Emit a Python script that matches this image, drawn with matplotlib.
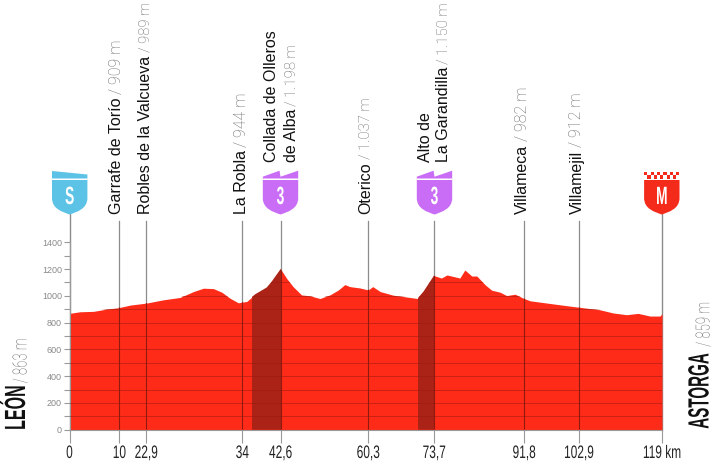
import matplotlib
matplotlib.use("Agg")
import matplotlib.pyplot as plt
from matplotlib.patches import Polygon, Rectangle, PathPatch
from matplotlib.path import Path
from matplotlib.transforms import Affine2D, Bbox
from matplotlib.patheffects import AbstractPathEffect

# ---------- data ----------
profile_km = [0, 2.1, 4.8, 7.5, 9.8, 12.2, 15.5, 18.8, 22.2, 24.9, 26.9, 28.9, 30.6, 32.2, 33.9,
              35.6, 37.3, 39.6, 40.6, 42.4, 43.6, 44.9, 46.6, 48.3, 50.3, 52.3, 54, 55.3, 56.3,
              58.3, 60, 60.9, 62.4, 65, 69.9, 71.1, 73.2, 74.7, 75.8, 78.4, 79.4, 80.8, 81.8,
              83.5, 84.8, 86.5, 87.8, 89.5, 91.1, 92.5, 98.5, 102.5, 106.5, 109.2, 111.9,
              114.2, 116.6, 118.6, 119]
profile_m = [869, 881, 884, 901, 911, 931, 946, 970, 988, 1032, 1057, 1054, 1027, 983, 948,
             958, 1012, 1062, 1106, 1200, 1131, 1069, 1007, 1000, 980, 1007, 1044, 1084, 1069,
             1059, 1044, 1069, 1032, 1005, 980, 1032, 1151, 1133, 1156, 1133, 1193, 1148, 1148,
             1082, 1042, 1027, 1002, 1012, 983, 963, 933, 914, 896, 872, 859,
             869, 849, 849, 867]
climb_starts = [36.7, 69.9]
climb_ends = [42.4, 73.3]
point_pos = [10, 15.4, 34.7, 42.4, 60, 73.2, 91.3, 102.3]
point_km_labels = ["10", "22,9", "34", "42,6", "60,3", "73,7", "91,8", "102,9"]
point_names = ["Garrafe de Torío", "Robles de la Valcueva", "La Robla", "Collada de Olleros\nde Alba",
               "Oterico", "Alto de\nLa Garandilla", "Villameca", "Villamejil"]
point_alts = ["909 m", "989 m", "944 m", "1.198 m", "1.037 m", "1.150 m", "982 m", "912 m"]
y_labels = list(range(0, 1401, 200))
y_minor = list(range(0, 1401, 100))
start_name, start_alt = "LEÓN", "863 m"
end_name, end_alt = "ASTORGA", "859 m"

# ---------- layout ----------
W, H = 720, 461
RED, DARK = "#fe2b18", "#ab2216"
SANS = "Liberation Sans"


class Squeeze(AbstractPathEffect):
    """Condense a text along its own direction, about its centre."""
    def __init__(self, sx):
        super().__init__()
        self.sx = sx

    def draw_path(self, renderer, gc, tpath, affine, rgbFace=None):
        e = tpath.get_extents()
        cx = e.x0 + e.width / 2
        t = Affine2D().translate(-cx, 0).scale(self.sx, 1).translate(cx, 0) + affine
        renderer.draw_path(gc, tpath, t, rgbFace)


def condense(t, sx):
    """Apply Squeeze and make the text report the extent it really draws."""
    t.set_path_effects([Squeeze(sx)])
    full = t.get_window_extent

    def extent(renderer=None, dpi=None):
        b = full(renderer, dpi)
        if t.get_rotation() == 90:
            mid, half = (b.y0 + b.y1) / 2, b.height * sx / 2
            return Bbox([[b.x0, mid - half], [b.x1, mid + half]])
        mid, half = (b.x0 + b.x1) / 2, b.width * sx / 2
        return Bbox([[mid - half, b.y0], [mid + half, b.y1]])

    t.get_window_extent = extent
    return t


fig = plt.figure(figsize=(7.2, 4.61), dpi=100, facecolor="white")
X0, X1, Y0, Y1 = 69.5, 662.0, 429.7, 242.3
ax = fig.add_axes([X0 / W, 1 - Y0 / H, (X1 - X0) / W, (Y0 - Y1) / H])
ax.set_xlim(0, 119)
ax.set_ylim(0, 1400)
ax.patch.set_alpha(0)
for s in ["top", "right"]:
    ax.spines[s].set_visible(False)
for s in ["left", "bottom"]:
    ax.spines[s].set_color("#999999")
    ax.spines[s].set_linewidth(0.8)

ov = fig.add_axes([0, 0, 1, 1], zorder=5)
ov.set_xlim(0, W)
ov.set_ylim(H, 0)
ov.axis("off")

# fill
ax.fill_between(profile_km, 0, profile_m, color=RED, lw=0, zorder=2)
clip_poly = Polygon(list(zip([0] + profile_km + [119], [0] + profile_m + [0])), transform=ax.transData,
                    fc="none", ec="none")
ax.add_patch(clip_poly)
for a, b in zip(climb_starts, climb_ends):
    r = ax.axvspan(a, b, color=DARK, lw=0, zorder=3)
    r.set_clip_path(clip_poly)
for v in y_minor[1:]:
    l = ax.axhline(v, color="#9c1a10", lw=0.55, alpha=0.7, zorder=4)
    l.set_clip_path(clip_poly)

# vertical lines
top = 1400 * (Y0 - 221.5) / (Y0 - Y1)
for p in point_pos:
    ax.plot([p, p], [0, top], color="#8c8c8c", lw=0.9, zorder=1, clip_on=False)
    l, = ax.plot([p, p], [0, top], color="#8f1a10", lw=0.8, zorder=4)
    l.set_clip_path(clip_poly)
for p in [0, 119]:
    ax.plot([p, p], [0, 1400 * (Y0 - 214) / (Y0 - Y1)], color="#8c8c8c", lw=1.0, zorder=1, clip_on=False)

# axes ticks
ax.set_yticks(y_minor)
ax.set_yticklabels([str(v) if v in y_labels else "" for v in y_minor], fontsize=6.5,
                   color="#8a8a8a", family=SANS)
ax.tick_params(axis="y", length=4, width=0.8, color="#999999", pad=1.5)
xt = [0] + point_pos + [119]
xl = ["0"] + point_km_labels + ["119 km"]
ax.set_xticks(xt)
ax.set_xticklabels(xl, fontsize=13, color="#222222", family=SANS)
ax.tick_params(axis="x", length=9, width=0.8, color="#999999", pad=2)
for t in ax.get_xticklabels():
    condense(t, 0.66)

fig.canvas.draw()
rend = fig.canvas.get_renderer()
NAME = dict(family=SANS, color="#111111", rotation=90, ha="center", va="bottom")
ALT = dict(family="Roboto", weight="light", color="#666666", rotation=90, ha="center", va="bottom")


def stacked(x, ybot, first, second, fs, fs2=None):
    t = ov.text(x, ybot, first, fontsize=fs, **NAME)
    bb = t.get_window_extent(rend)
    fs2 = fs2 or (fs - 0.8 if "." in second else fs)
    ov.text(x, ybot - bb.height - 3, second, fontsize=fs2, **ALT)


FS = 11.5
label_x = {0: 116.5, 1: 145, 2: 241.5, 4: 366, 6: 522, 7: 577}
for i, x in label_x.items():
    stacked(x, 213.5, point_names[i], "/ " + point_alts[i], FS, fs2=10.6 if i == 1 else None)
first, second = point_names[3].split("\n")
ov.text(271.5, 162, first, fontsize=FS, **NAME)
stacked(291.5, 162, second, "/ " + point_alts[3], FS)
first, second = point_names[5].split("\n")
ov.text(425.5, 162, first, fontsize=FS, **NAME)
stacked(444, 162, second, "/ " + point_alts[5], FS)

# start and finish, condensed and bold
def end_label(x, name, xa, ya, alt, yb, sx):
    t = ov.text(x, yb, name, fontsize=21, family=SANS, weight="bold", color="#111111", rotation=90,
                ha="center", va="center")
    condense(t, sx)
    a = ov.text(xa, ya, alt, fontsize=14, family="Roboto", weight="light", color="#666666", rotation=90,
                ha="center", va="center")
    condense(a, 0.68)

end_label(17, start_name, 21.5, 360.5, "/ " + start_alt, 407.5, 0.55)
end_label(700.5, end_name, 704.5, 324, "/ " + end_alt, 391, 0.52)

# shields
def shield(cx, color, letter, kind):
    l, r, top_y, bot = cx - 17.7, cx + 17.7, 180, 214.5
    verts = [(l, top_y), (r, top_y), (r, 198), (r, 209), (cx + 7, 212), (cx, bot), (cx - 7, 212), (l, 209),
             (l, 198), (l, top_y)]
    codes = [Path.MOVETO, Path.LINETO, Path.LINETO, Path.CURVE4, Path.CURVE4, Path.CURVE4,
             Path.CURVE4, Path.CURVE4, Path.CURVE4, Path.CLOSEPOLY]
    ov.add_patch(PathPatch(Path(verts, codes), fc=color, ec="none"))
    if kind == "start":
        ov.add_patch(Polygon([(l, 171), (r, 174.5), (r, 178.5), (l, 178.5)], fc=color, ec="none"))
    elif kind == "climb":
        ov.add_patch(Polygon([(l, 176.7), (cx - 1, 170.7), (cx, 176.7), (r, 170.7), (r, 178.5), (l, 178.5)],
                             fc=color, ec="none"))
    else:
        n = 6
        step = 35.4 / (2 * n - 1)
        for k in range(n):
            ov.add_patch(Rectangle((l + k * 2 * step, 171.5), step, 3.6, fc=color, ec="none"))
        for k in range(n - 1):
            ov.add_patch(Rectangle((l + k * 2 * step + step, 175), step, 3.6, fc=color, ec="none"))
    t = ov.text(cx, 197, letter, color="white", fontsize=18, family=SANS, weight="bold", ha="center", va="center")
    condense(t, 0.55)

shield(69.7, "#5cc3e6", "S", "start")
shield(280.5, "#c96cf6", "3", "climb")
shield(434.5, "#c96cf6", "3", "climb")
shield(661.8, "#f42a1a", "M", "end")

fig.savefig("out.png", dpi=100, facecolor="white")
